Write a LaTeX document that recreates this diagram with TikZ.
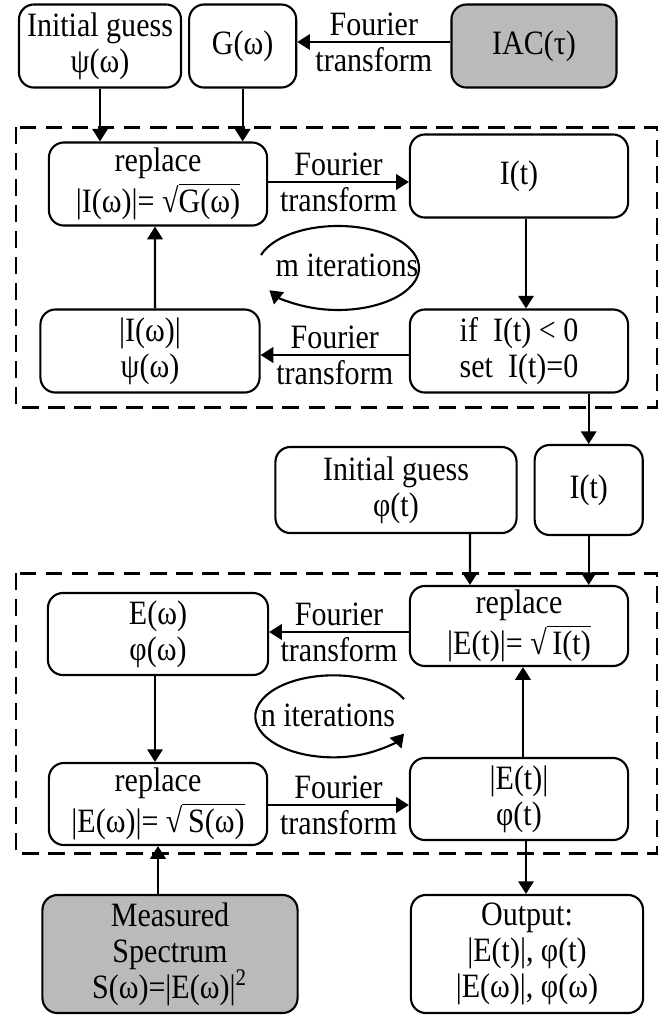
\documentclass[tikz,border=0pt]{standalone}
\usepackage{fontspec}
\setmainfont{Liberation Serif}[FakeStretch=0.88]
\usetikzlibrary{arrows.meta, positioning}

\newcommand{\sqrttxt}[1]{√$\overline{\hbox{#1}}$}

\begin{document}
\begin{tikzpicture}[x=0.01cm, y=0.01cm,
    font=\fontsize{9.7}{10.2}\selectfont,
    blk/.style={draw, line width=0.6pt, rounded corners=0.15cm, align=center,
        inner sep=0pt, minimum width=2.18cm, minimum height=0.83cm},
    gblk/.style={blk, fill=black!27},
    arr/.style={-{Triangle[length=3.6pt, width=4.4pt]}, line width=0.6pt},
    dashbox/.style={line width=0.85pt, dash pattern=on 4.8pt off 2.6pt},
    lbl/.style={midway, align=center}]
    \useasboundingbox (0,0) rectangle (668,-1026);

    \node[blk, minimum width=1.62cm] (psi0) at (100,-46) {Initial guess\\ψ(ω)};
    \node[blk, minimum width=1.07cm, right = 0.06cm of psi0] (G) {G(ω)};
    \node[gblk, minimum width=1.65cm] (iac) at (534,-46) {IAC(τ)};

    \node[blk] (repI) at (158,-184) {replace\\|I(ω)|= \sqrttxt{G(ω)}};
    \node[blk] (It) at (519,-176) {I(t)};
    \node[blk, minimum width=2.19cm] (absI) at (150,-351) {|I(ω)|\\ψ(ω)};
    \node[blk] (ifbox) at (519,-351) {if~~I(t) < 0\\set~~I(t)=0};
    \node (mit) at (347,-265) {m iterations};

    \node[blk, minimum width=2.41cm, minimum height=0.86cm] (phi0) at (396,-490) {Initial guess\\φ(t)};
    \node[blk, minimum width=1.08cm, minimum height=0.90cm, right = 0.16cm of phi0] (It2) {I(t)};

    \node[blk, minimum height=0.80cm] (repE) at (519,-626) {replace\\|E(t)|= \sqrttxt{\,I(t)}};
    \node[blk, minimum width=2.20cm, minimum height=0.82cm] (Ew) at (158,-634) {E(ω)\\φ(ω)};
    \node[blk, minimum height=0.82cm] (repS) at (158,-804) {replace\\|E(ω)|= \sqrttxt{\,S(ω)}};
    \node[blk, minimum height=0.82cm] (Et) at (519,-799) {|E(t)|\\φ(t)};
    \node (nit) at (328,-715) {n iterations};

    \node[gblk, minimum width=2.55cm, minimum height=1.18cm] (meas) at (170,-954) {Measured\\Spectrum\\S(ω)=|E(ω)|\textsuperscript{2}};
    \node[blk, minimum width=2.32cm, minimum height=1.18cm] (out) at (527,-954) {Output:\\|E(t)|, φ(t)\\|E(ω)|, φ(ω)};

    \draw[dashbox] (16,-127) rectangle (657,-407);
    \draw[dashbox] (16,-573) rectangle (657,-853);

    \draw[arr] (iac.west |- 0,-42) -- node[lbl] {Fourier\\transform} (G.east |- 0,-42);
    \draw[arr] (psi0.south) -- (psi0.south |- repI.north);
    \draw[arr] (G.south) -- (G.south |- repI.north);

    \draw[arr] (repI.east |- 0,-182) -- node[lbl] {Fourier\\transform} (It.west |- 0,-182);
    \draw[arr] ([xshift=0.07cm]It.south) -- ([xshift=0.07cm]ifbox.north);
    \draw[arr] (ifbox.west |- 0,-355) -- node[lbl] {Fourier\\transform} (absI.east |- 0,-355);
    \draw[arr] ([xshift=0.05cm]absI.north) -- ([xshift=-0.03cm]repI.south);
    \draw[arr] ([shift={(-86,10)}]mit.center) arc[start angle=162, end angle=-148, x radius=81, y radius=42];

    \draw[arr] (It2.south |- ifbox.south) -- (It2.north);
    \draw[arr] ([xshift=0.74cm]phi0.south) -- ([xshift=-0.49cm]repE.north);
    \draw[arr] (It2.south) -- (It2.south |- repE.north);

    \draw[arr] (repE.west |- 0,-632) -- node[lbl] {Fourier\\transform} (Ew.east |- 0,-632);
    \draw[arr] ([xshift=-0.03cm]Ew.south) -- ([xshift=-0.03cm]repS.north);
    \draw[arr] (repS.east |- 0,-805) -- node[lbl] {Fourier\\transform} (Et.west |- 0,-805);
    \draw[arr] ([xshift=0.04cm]Et.north) -- ([xshift=0.04cm]repE.south);
    \draw[arr] ([shift={(76,16)}]nit.center) arc[start angle=25, end angle=335, x radius=78, y radius=41];

    \draw[arr] (repS.south |- meas.north) -- (repS.south);
    \draw[arr] ([xshift=0.07cm]Et.south) -- ([xshift=0.07cm]Et.south |- out.north);
\end{tikzpicture}
\end{document}
